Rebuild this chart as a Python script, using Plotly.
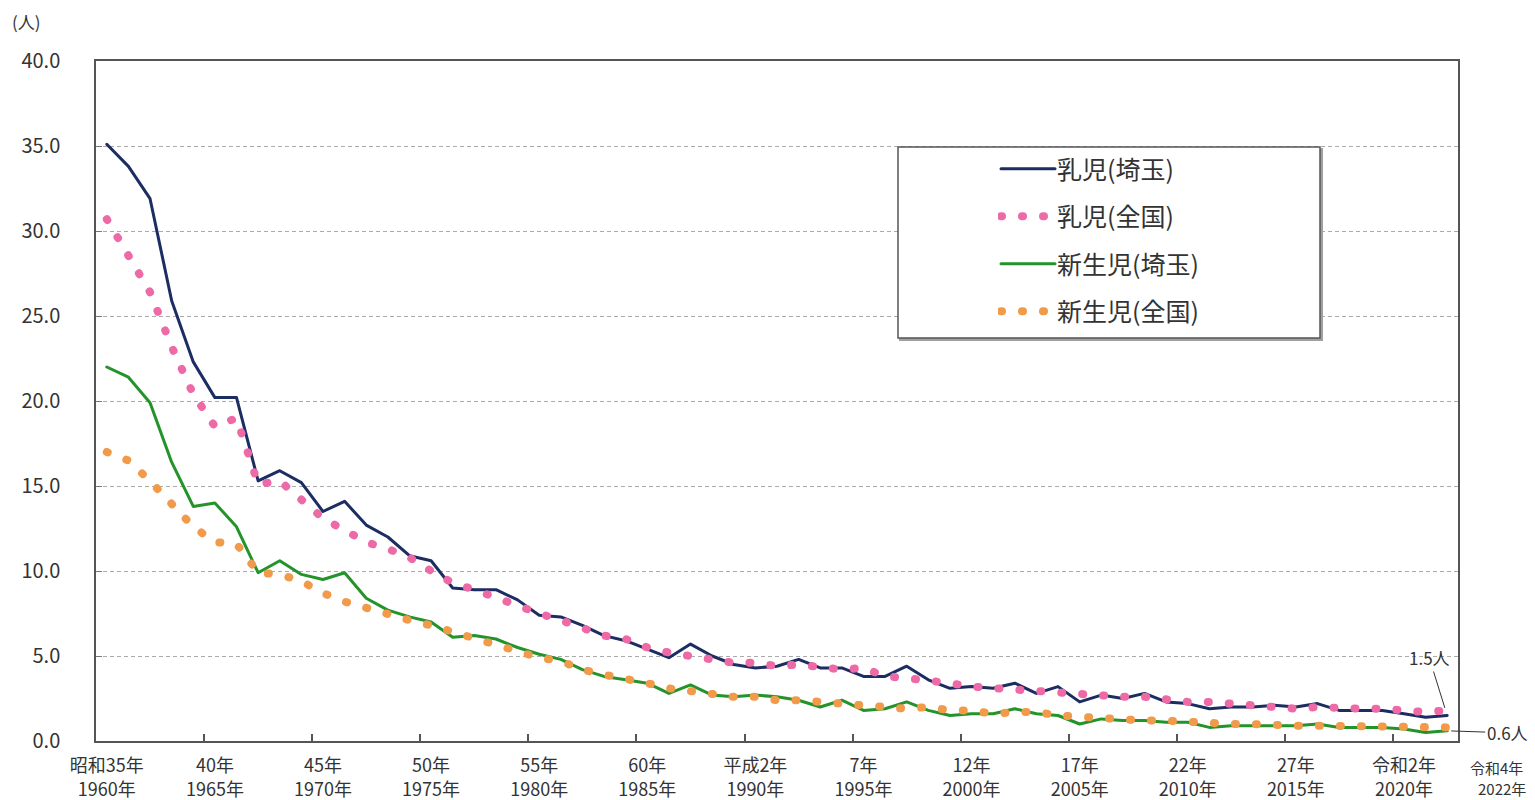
import plotly.graph_objects as go

# ---------------- data ----------------
years = list(range(1960, 2023))

saitama_infant = [
    35.1, 33.8, 31.9, 25.9, 22.3, 20.2, 20.2, 15.3, 15.9, 15.2,
    13.5, 14.1, 12.7, 12.0, 10.9, 10.6, 9.0, 8.9, 8.9, 8.3,
    7.4, 7.3, 6.8, 6.2, 5.9, 5.4, 4.9, 5.7, 5.0, 4.5,
    4.3, 4.4, 4.8, 4.3, 4.3, 3.8, 3.8, 4.4, 3.6, 3.1,
    3.2, 3.1, 3.4, 2.8, 3.2, 2.3, 2.7, 2.5, 2.8, 2.3,
    2.2, 1.9, 2.0, 2.0, 2.1, 2.0, 2.2, 1.8, 1.8, 1.8,
    1.6, 1.4, 1.5,
]
national_infant = [
    30.7, 28.6, 26.4, 23.2, 20.4, 18.5, 19.0, 15.1, 15.3, 14.2,
    13.1, 12.4, 11.7, 11.3, 10.8, 10.0, 9.3, 8.9, 8.4, 7.9,
    7.5, 7.1, 6.6, 6.2, 6.0, 5.5, 5.2, 5.0, 4.8, 4.6,
    4.6, 4.4, 4.5, 4.3, 4.2, 4.3, 3.8, 3.7, 3.6, 3.4,
    3.2, 3.1, 3.0, 3.0, 2.8, 2.8, 2.6, 2.6, 2.6, 2.4,
    2.3, 2.3, 2.2, 2.1, 2.1, 1.9, 2.0, 1.9, 1.9, 1.9,
    1.8, 1.7, 1.8,
]
saitama_neonatal = [
    22.0, 21.4, 19.9, 16.4, 13.8, 14.0, 12.6, 9.9, 10.6, 9.8,
    9.5, 9.9, 8.4, 7.7, 7.3, 7.0, 6.1, 6.2, 6.0, 5.5,
    5.1, 4.8, 4.2, 3.8, 3.6, 3.4, 2.8, 3.3, 2.7, 2.6,
    2.7, 2.6, 2.4, 2.0, 2.4, 1.8, 1.9, 2.3, 1.8, 1.5,
    1.6, 1.6, 1.9, 1.6, 1.5, 1.0, 1.3, 1.2, 1.2, 1.1,
    1.1, 0.8, 0.9, 0.9, 0.9, 0.9, 1.0, 0.8, 0.8, 0.8,
    0.7, 0.5, 0.6,
]
national_neonatal = [
    17.0, 16.5, 15.3, 13.9, 12.6, 11.7, 11.6, 9.9, 9.8, 9.4,
    8.7, 8.2, 7.8, 7.4, 7.1, 6.8, 6.4, 6.1, 5.6, 5.2,
    4.9, 4.7, 4.2, 3.9, 3.7, 3.4, 3.1, 2.9, 2.7, 2.6,
    2.6, 2.4, 2.4, 2.3, 2.3, 2.2, 2.0, 1.9, 2.0, 1.8,
    1.8, 1.6, 1.7, 1.7, 1.5, 1.4, 1.3, 1.3, 1.2, 1.2,
    1.1, 1.1, 1.0, 1.0, 0.9, 0.9, 0.9, 0.9, 0.9, 0.9,
    0.8, 0.8, 0.8,
]

series_names = ["乳児(埼玉)", "乳児(全国)", "新生児(埼玉)", "新生児(全国)"]

label_years = [1960, 1965, 1970, 1975, 1980, 1985, 1990, 1995, 2000, 2005, 2010, 2015, 2020]
era_labels = ["昭和35年", "40年", "45年", "50年", "55年", "60年", "平成2年",
              "7年", "12年", "17年", "22年", "27年", "令和2年"]
tick_text = [f"{e}<br>{y}年" for e, y in zip(era_labels, label_years)]
boundary_ticks = [y - 0.5 for y in label_years[1:]]

last_era_label = "令和4年"
last_year_label = "2022年"
unit_label = "(人)"

# ---------------- style ----------------
FONT = "Noto Sans CJK JP"
TXT = "#333333"
NAVY = "#1b2d62"
PINK = "#ee6aa7"
GREEN = "#23932a"
ORANGE = "#f09a4a"
DOTS = "1px,20px"

W, H = 1535, 800
ML, MR, MT, MB = 96, 77, 61, 59
PW, PH = W - ML - MR, H - MT - MB


def px_x(p):
    return (p - ML) / PW


def px_y(p):
    return (H - MB - p) / PH


fig = go.Figure()
fig.add_trace(go.Scatter(x=years, y=saitama_infant, mode="lines", name=series_names[0],
                         legendgroup="g1", line=dict(color=NAVY, width=3)))
fig.add_trace(go.Scatter(x=years, y=national_infant, mode="lines", name=series_names[1],
                         legendgroup="g2", line=dict(color=PINK, width=8, dash=DOTS)))
fig.add_trace(go.Scatter(x=years, y=saitama_neonatal, mode="lines", name=series_names[2],
                         legendgroup="g3", line=dict(color=GREEN, width=3)))
fig.add_trace(go.Scatter(x=years, y=national_neonatal, mode="lines", name=series_names[3],
                         legendgroup="g4", line=dict(color=ORANGE, width=8, dash=DOTS)))

# legend box (with a soft shadow)
fig.add_shape(type="rect", xref="paper", yref="paper",
              x0=px_x(900), x1=px_x(1322), y0=px_y(340), y1=px_y(149),
              line=dict(color="#a0a0a0", width=2), fillcolor="#a0a0a0", layer="above")
fig.add_shape(type="rect", xref="paper", yref="paper",
              x0=px_x(898), x1=px_x(1320), y0=px_y(338), y1=px_y(147),
              line=dict(color="#555555", width=1.5), fillcolor="white", layer="above")

annotations = [
    dict(text=unit_label, xref="paper", yref="paper", x=px_x(10), y=px_y(22),
         xanchor="left", yanchor="middle", showarrow=False,
         font=dict(family=FONT, size=17, color=TXT)),
    dict(text=last_era_label, xref="paper", yref="paper", x=px_x(1497), y=px_y(767),
         xanchor="center", yanchor="middle", showarrow=False,
         font=dict(family=FONT, size=15, color=TXT)),
    dict(text=last_year_label, xref="paper", yref="paper", x=px_x(1502), y=px_y(788),
         xanchor="center", yanchor="middle", showarrow=False,
         font=dict(family=FONT, size=15, color=TXT)),
    dict(text="1.5人", x=years[-1], y=saitama_infant[-1], xref="x", yref="y",
         showarrow=True, arrowhead=0, arrowwidth=1, arrowcolor="#333", ax=-18, ay=-58,
         standoff=8, font=dict(family=FONT, size=17, color=TXT)),
    dict(text="0.6人", x=years[-1], y=saitama_neonatal[-1], xref="x", yref="y",
         showarrow=True, arrowhead=0, arrowwidth=1, arrowcolor="#333", ax=60, ay=2,
         standoff=4, font=dict(family=FONT, size=17, color=TXT)),
]

fig.update_layout(
    width=W, height=H,
    margin=dict(l=ML, r=MR, t=MT, b=MB, pad=0, autoexpand=False),
    paper_bgcolor="white", plot_bgcolor="white",
    font=dict(family=FONT, color=TXT),
    showlegend=True,
    legend=dict(x=px_x(998), y=px_y(146), xanchor="left", yanchor="top",
                bgcolor="rgba(0,0,0,0)", borderwidth=0,
                font=dict(family=FONT, size=25, color=TXT),
                traceorder="grouped", tracegroupgap=12, itemwidth=49),
    annotations=annotations,
    xaxis=dict(range=[1959.5, 2022.5], tickmode="array", tickvals=label_years,
               ticktext=tick_text, ticks="", showgrid=False, zeroline=False,
               automargin=False,
               showline=True, linecolor="#555555", linewidth=1.5, mirror=True,
               tickfont=dict(family=FONT, size=18, color=TXT), ticklabelstandoff=8,
               minor=dict(tickmode="array", tickvals=boundary_ticks, ticks="inside",
                          ticklen=7, tickwidth=1.5, tickcolor="#555555", showgrid=False)),
    yaxis=dict(range=[0, 40], tickmode="linear", tick0=0, dtick=5, tickformat=".1f",
               ticks="inside", ticklen=6, tickcolor="#777777", automargin=False,
               showgrid=True, gridcolor="#aaaaaa", gridwidth=1, griddash="4px,3px",
               zeroline=False, showline=True, linecolor="#555555", linewidth=1.5,
               mirror=True, tickfont=dict(family=FONT, size=20, color=TXT),
               ticklabelstandoff=30),
)

post = """
document.body.style.margin = '0';
document.body.style.overflow = 'hidden';
var gd = document.getElementById('{plot_id}');
function fixLines(){
  gd.querySelectorAll('path.js-line').forEach(function(p){
    p.style.strokeLinecap = 'round';
    p.style.strokeLinejoin = 'round';
  });
  gd.querySelectorAll('.legend .traces path.js-line').forEach(function(p){
    p.setAttribute('d', 'M3,0h54');
  });
}
fixLines();
if (gd.on) { gd.on('plotly_afterplot', fixLines); }
"""

fig.write_html("out.html", post_script=post, config={"displayModeBar": False})
